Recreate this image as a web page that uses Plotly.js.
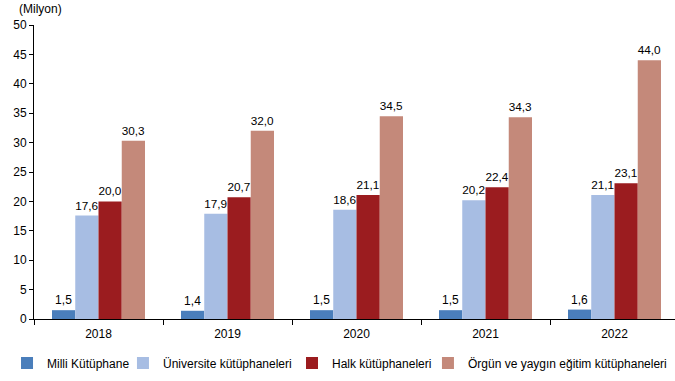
<!DOCTYPE html>
<html><head><meta charset="utf-8">
<script src="https://cdn.plot.ly/plotly-3.0.1.min.js"></script>
<style>html,body{margin:0;padding:0;background:#fff}#chart{width:675px;height:381px}</style>
</head><body><div id="chart"></div>
<script>
const years = ['2018','2019','2020','2021','2022'];
const seriesNames = ['Milli Kütüphane','Üniversite kütüphaneleri','Halk kütüphaneleri','Örgün ve yaygın eğitim kütüphaneleri'];
const milli = [1.5, 1.4, 1.5, 1.5, 1.6];
const universite = [17.6, 17.9, 18.6, 20.2, 21.1];
const halk = [20.0, 20.7, 21.1, 22.4, 23.1];
const orgun = [30.3, 32.0, 34.5, 34.3, 44.0];
const colors = ['#4a7ebb', '#a7bde3', '#9b1c1f', '#c4897a'];
const yTicks = [0,5,10,15,20,25,30,35,40,45,50];
const legendIds = ['legend', 'legend2', 'legend3', 'legend4'];
const legendX = [-0.0421, 0.1388, 0.4025, 0.6146];

const allSeries = [milli, universite, halk, orgun];
const traces = allSeries.map((vals, i) => ({
  type: 'bar', x: years, y: vals, name: seriesNames[i],
  marker: {color: colors[i], line: {width: 0}},
  texttemplate: '%{y:.1f}', textposition: 'outside', cliponaxis: false,
  textfont: {family: 'Liberation Sans, Arial, sans-serif', size: 12, color: '#000'},
  legend: legendIds[i],
  hoverinfo: 'none'
}));

const layout = {
  width: 675, height: 381,
  margin: {l: 34, r: 0, t: 25, b: 62, autoexpand: false},
  paper_bgcolor: '#fff', plot_bgcolor: '#fff',
  separators: ',.',
  barmode: 'group', bargap: 0.279, bargroupgap: 0,
  font: {family: 'Liberation Sans, Arial, sans-serif', size: 12, color: '#000'},
  xaxis: {
    type: 'category', range: [-0.5, 4.469], showgrid: false, showline: true, linecolor: '#000', linewidth: 1,
    ticks: 'outside', tickson: 'boundaries', ticklen: 5, tickcolor: '#000',
    ticklabelstandoff: 4, tickfont: {size: 12}, zeroline: false
  },
  yaxis: {
    range: [0, 50], tickvals: yTicks, showgrid: false, showline: true, linecolor: '#000', linewidth: 1,
    ticks: 'outside', ticklen: 4, tickcolor: '#000', tickfont: {size: 12}, zeroline: false
  },
  showlegend: true,
  annotations: [{
    text: '(Milyon)', xref: 'paper', yref: 'paper', x: -0.026, y: 1.0, xanchor: 'left', yanchor: 'bottom',
    yshift: 7, showarrow: false, font: {size: 12}
  }]
};
legendIds.forEach((id, i) => {
  layout[id] = {
    orientation: 'h', x: legendX[i], xanchor: 'left', y: -0.1497, yanchor: 'middle',
    font: {size: 12}, itemwidth: 30, bgcolor: 'rgba(0,0,0,0)'
  };
});

Plotly.newPlot('chart', traces, layout, {displayModeBar: false, staticPlot: true});
</script></body></html>
